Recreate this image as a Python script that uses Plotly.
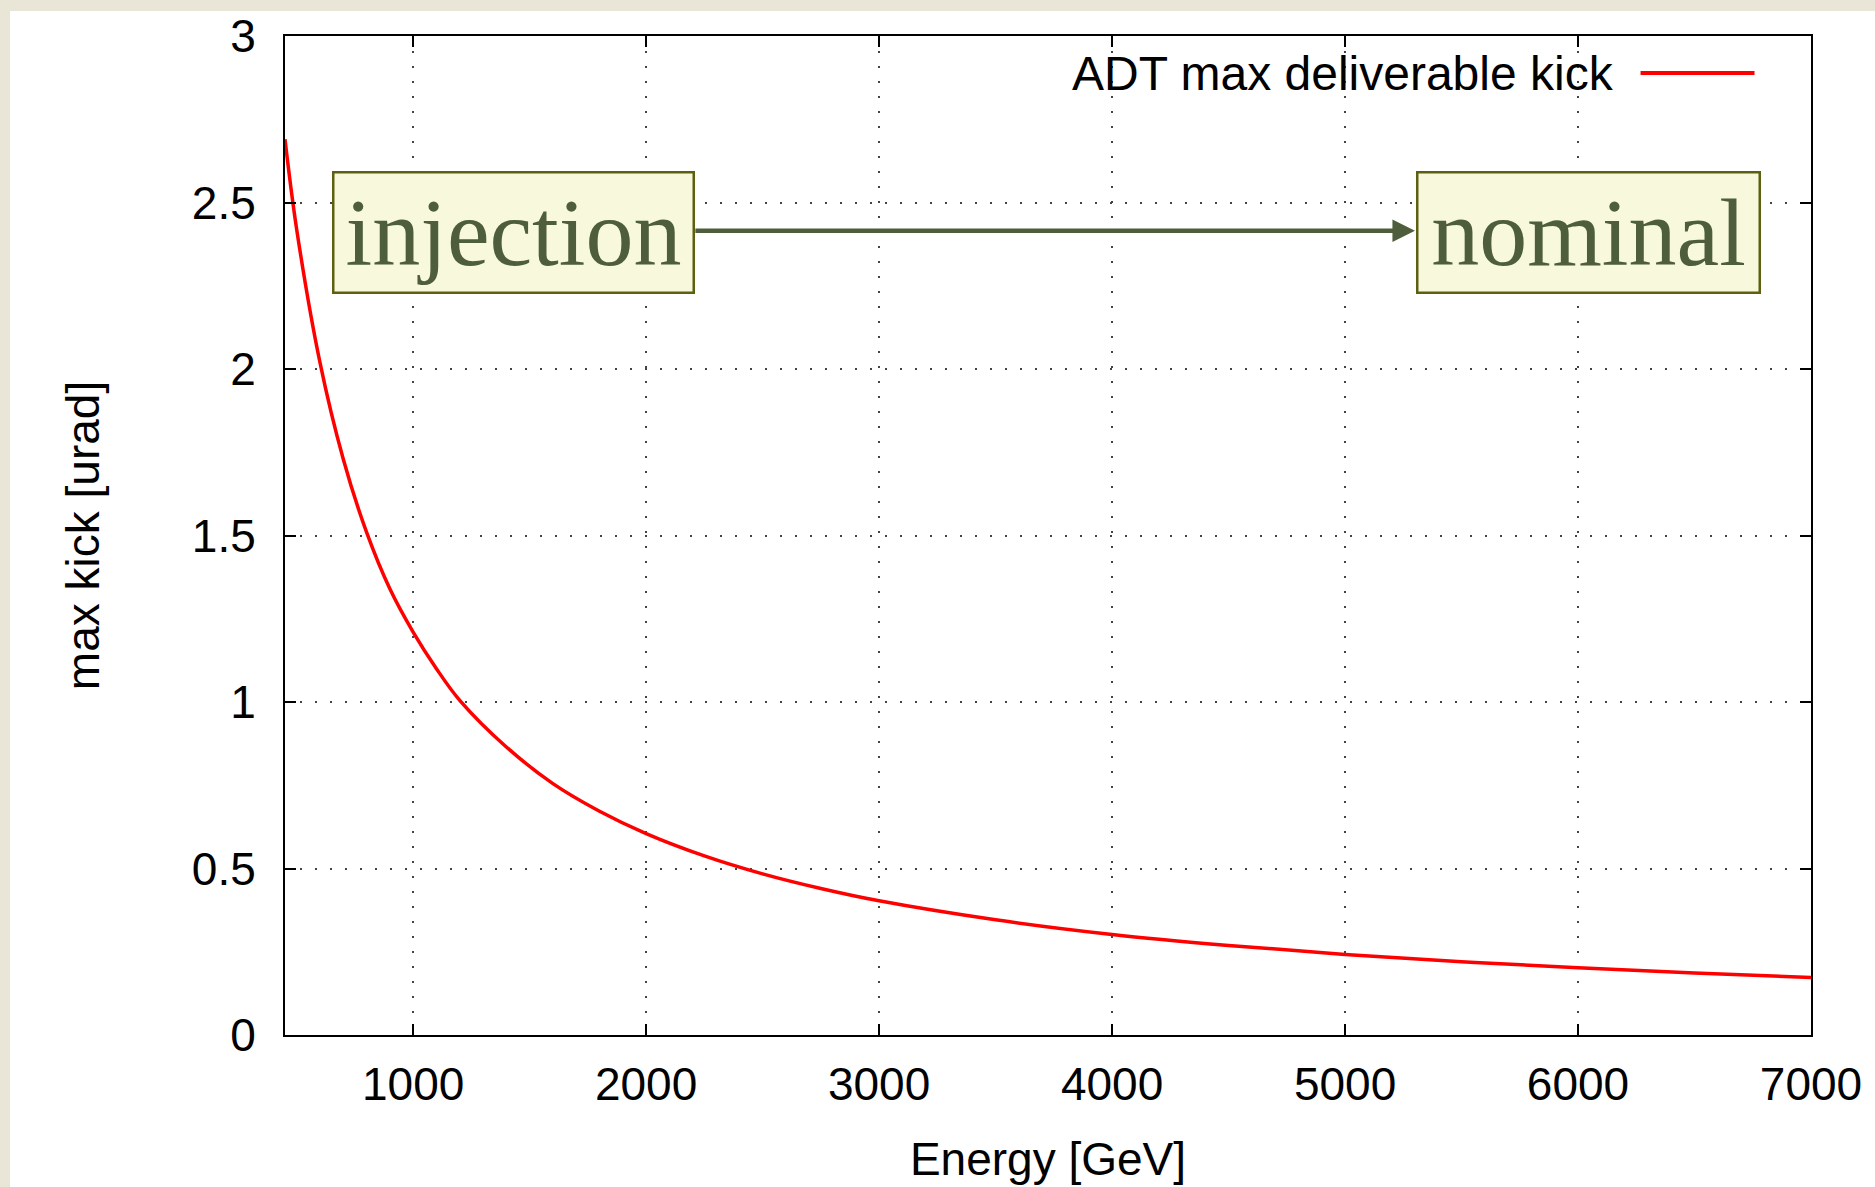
import plotly.graph_objects as go

# Data
energy_gev = [450, 500, 600, 700, 800, 900, 1000, 1100, 1200, 1400, 1600, 1800, 2000,
              2250, 2500, 2750, 3000, 3500, 4000, 4500, 5000, 5500, 6000, 6500, 7000]
max_kick_urad = [2.69, 2.42, 2.02, 1.73, 1.51, 1.34, 1.21, 1.10, 1.005, 0.865, 0.755, 0.672, 0.605,
                 0.538, 0.484, 0.44, 0.403, 0.346, 0.302, 0.269, 0.242, 0.22, 0.202, 0.186, 0.173]
x_ticks = [1000, 2000, 3000, 4000, 5000, 6000, 7000]
y_ticks = [0, 0.5, 1, 1.5, 2, 2.5, 3]
series_name = "ADT max deliverable kick"

W, H = 1875, 1187
L, R, T, B = 285, 63.5, 36, 151.5
pw, ph = W - L - R, H - T - B

def px(xpix):
    return (xpix - L) / pw

def py(ypix):
    return (H - B - ypix) / ph

font_main = dict(family="Liberation Sans, Arial, sans-serif", size=46, color="black")
serif = dict(family="Liberation Serif, Times New Roman, serif", size=96, color="#4e5e3c")

fig = go.Figure()
fig.add_trace(go.Scatter(x=energy_gev, y=max_kick_urad, mode="lines", name=series_name,
                         line=dict(color="#ff0000", width=3.5, shape="spline"), showlegend=False))

axis_common = dict(showline=True, linecolor="black", linewidth=2, mirror="ticks",
                   ticks="inside", ticklen=11, tickwidth=2, tickcolor="black",
                   showgrid=True, gridcolor="#444444", gridwidth=1.5, griddash="2px,13px",
                   zeroline=False, tickfont=font_main)

fig.update_xaxes(range=[450, 7000], tickvals=x_ticks, ticklabelstandoff=8,
                 title=dict(text="Energy [GeV]", font=font_main, standoff=34), **axis_common)
fig.update_yaxes(range=[0, 3], tickvals=y_ticks, ticklabelstandoff=18,
                 title=dict(text="max kick [urad]", font=font_main, standoff=78), **axis_common)

shapes = [
    # white page panel
    dict(type="rect", xref="paper", yref="paper", x0=px(10), x1=px(W + 5), y0=py(H + 5), y1=py(11),
         fillcolor="white", line=dict(width=0), layer="below"),
    # legend sample line
    dict(type="line", xref="paper", yref="paper", x0=px(1641), x1=px(1755), y0=py(73), y1=py(73),
         line=dict(color="#ff0000", width=4)),
]

annotations = [
    dict(text=series_name, xref="paper", yref="paper", x=px(1616), y=py(74),
         xanchor="right", yanchor="middle", showarrow=False,
         font=dict(family=font_main["family"], size=48, color="black")),
    # arrow injection -> nominal
    dict(x=5300, y=2.415, ax=2205, ay=2.415, xref="x", yref="y", axref="x", ayref="y",
         text="", showarrow=True, arrowhead=2, arrowsize=1.0, arrowwidth=4.5, arrowcolor="#4e5e3c"),
    dict(text="injection", x=1431, y=2.41, xref="x", yref="y", showarrow=False,
         font=serif, bgcolor="#f7f8dc", bordercolor="#5d6010", borderwidth=2.5,
         width=356, height=116, borderpad=1),
    dict(text="nominal", x=6045, y=2.41, xref="x", yref="y", showarrow=False,
         font=serif, bgcolor="#f7f8dc", bordercolor="#5d6010", borderwidth=2.5,
         width=338, height=116, borderpad=1),
]

fig.update_layout(width=W, height=H, margin=dict(l=L, r=R, t=T, b=B, autoexpand=False),
                  paper_bgcolor="#e9e6d8", plot_bgcolor="white",
                  shapes=shapes, annotations=annotations, font=font_main)

fig.write_html("out.html")
